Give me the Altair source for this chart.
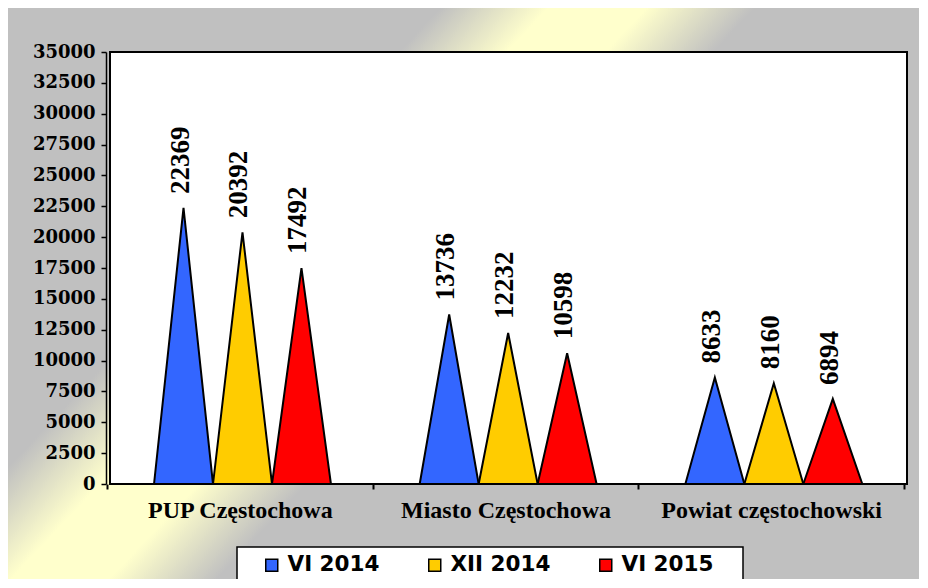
import altair as alt
import pandas as pd

# ---- data ----
categories = ["PUP Częstochowa", "Miasto Częstochowa", "Powiat częstochowski"]
series = ["VI 2014", "XII 2014", "VI 2015"]
vi_2014 = [22369, 13736, 8633]
xii_2014 = [20392, 12232, 8160]
vi_2015 = [17492, 10598, 6894]
colors = ["#3366FF", "#FFCC00", "#FF0000"]
y_ticks = list(range(0, 35001, 2500))

# ---- layout constants ----
W, H = 797, 432
PAD_L, PAD_T, SVG_W, SVG_H = 102, 44, 911, 571
TRI_W = 0.222  # triangle base width, in category units

values = [vi_2014, xii_2014, vi_2015]
tri_rows, label_rows = [], []
for i, cat in enumerate(categories):
    for j, s in enumerate(series):
        v = values[j][i]
        c = i + 0.51 + (j - 1) * TRI_W
        tid = f"{i}-{j}"
        tri_rows += [
            {"tri": tid, "series": s, "x": c - TRI_W / 2, "y": 0},
            {"tri": tid, "series": s, "x": c, "y": v},
            {"tri": tid, "series": s, "x": c + TRI_W / 2, "y": 0},
        ]
        label_rows.append({"series": s, "x": c, "y": v, "label": str(v)})
tri_df = pd.DataFrame(tri_rows)
label_df = pd.DataFrame(label_rows)
one = pd.DataFrame({"k": [0]})

xscale = alt.Scale(domain=[0, 3], range=[-3, W - 3], nice=False, zero=False)
yscale = alt.Scale(domain=[0, 35000], nice=False)

label_expr = " : ".join(f"datum.value == {i} ? '{c}'" for i, c in enumerate(categories)) + " : ''"

xaxis = alt.Axis(values=[0, 1, 2, 3], labelExpr=label_expr, labelOffset=W / 6,
                 labelFlush=False, labelOverlap=False, labelLimit=500, domain=False,
                 tickColor="black", tickWidth=2, tickSize=5,
                 labelFont="Liberation Serif", labelFontWeight="bold", labelFontSize=24,
                 labelColor="black", labelPadding=9, grid=False, title=None, zindex=2)
yaxis = alt.Axis(values=y_ticks, format="d", offset=4, domainColor="black", domainWidth=1.5,
                 tickColor="black", tickWidth=1.5, tickSize=5, labelOverlap=False,
                 labelSeparation=0, labelFlush=False,
                 labelFont="DejaVu Serif", labelFontWeight="bold", labelFontSize=18,
                 labelColor="black", labelPadding=6, grid=False, title=None, zindex=2)

legend = alt.Legend(title=None, orient="none", legendX=151, legendY=502, direction="horizontal",
                    gridAlign="each",
                    symbolType="square", symbolSize=144, symbolStrokeColor="black",
                    symbolStrokeWidth=1.5, labelFont="DejaVu Sans", labelFontWeight="bold",
                    labelFontSize=21.5, labelColor="black", labelOffset=5, columnPadding=44,
                    padding=0)

gradient = alt.LinearGradient(
    gradient="linear",
    stops=[
        alt.GradientStop(offset=0, color="#C0C0C0"),
        alt.GradientStop(offset=0.352, color="#C0C0C0"),
        alt.GradientStop(offset=0.44, color="#FFFFCC"),
        alt.GradientStop(offset=0.52, color="#FFFFCC"),
        alt.GradientStop(offset=0.608, color="#C0C0C0"),
        alt.GradientStop(offset=1, color="#C0C0C0"),
    ],
    x1=0, y1=0, x2=1, y2=0.59,
)

bg = alt.Chart(one).mark_rect(fill=gradient).encode(
    x=alt.value(-PAD_L), x2=alt.value(SVG_W - PAD_L),
    y=alt.value(-PAD_T), y2=alt.value(SVG_H - PAD_T))

plot_rect = alt.Chart(one).mark_rect(fill="white", stroke="black", strokeWidth=2).encode(
    x=alt.value(0), x2=alt.value(W), y=alt.value(0), y2=alt.value(H))

legend_box = alt.Chart(one).mark_rect(fill="white", stroke="black", strokeWidth=1.5).encode(
    x=alt.value(127), x2=alt.value(633), y=alt.value(495), y2=alt.value(560))

areas = alt.Chart(tri_df).mark_area(stroke="black", strokeWidth=2, strokeJoin="miter").encode(
    x=alt.X("x:Q", scale=xscale, axis=xaxis),
    y=alt.Y("y:Q", scale=yscale, axis=yaxis, stack=None),
    color=alt.Color("series:N", scale=alt.Scale(domain=series, range=colors), legend=legend),
    detail="tri:N",
)

labels = alt.Chart(label_df).mark_text(
    font="Liberation Serif", fontWeight="bold", fontSize=27, angle=270,
    align="left", baseline="middle", dx=14, dy=-3, color="black",
).encode(
    x=alt.X("x:Q", scale=xscale, axis=xaxis),
    y=alt.Y("y:Q", scale=yscale, axis=yaxis),
    text="label:N",
)

css = ("html{margin:0;padding:0;background:#C0C0C0;overflow:hidden;}"
       "body{margin:0;padding:0;background:#C0C0C0;height:579px;overflow:hidden;"
       "border-top:9px solid #FDDFD3;border-left:9px solid #FDDFD3;}"
       "#vis{overflow:hidden;}")

chart = alt.layer(bg, plot_rect, legend_box, areas, labels).properties(
    width=W, height=H,
    autosize=alt.AutoSizeParams(type="none"),
    padding={"left": PAD_L, "top": PAD_T, "right": SVG_W - PAD_L - W,
             "bottom": SVG_H - PAD_T - H},
    background="#C0C0C0",
    usermeta={"embedOptions": {"defaultStyle": css}},
).configure_view(stroke=None)

chart.save("out.html", embed_options={"renderer": "svg", "actions": False})
